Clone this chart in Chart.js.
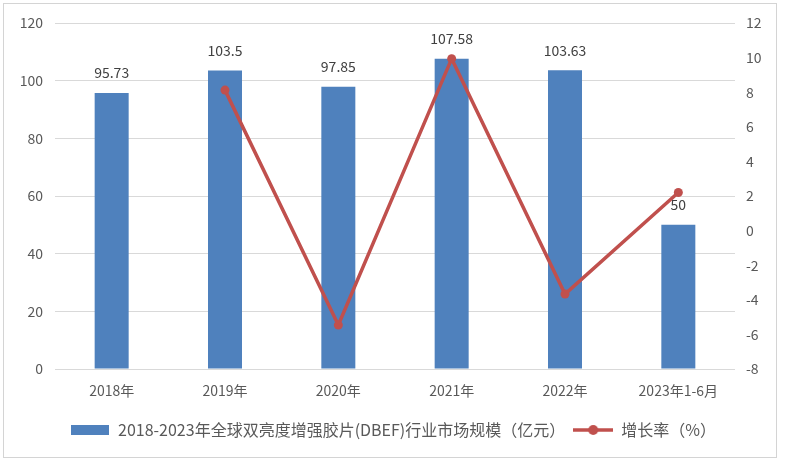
<!DOCTYPE html>
<html>
<head>
<meta charset="utf-8">
<script src="https://cdn.jsdelivr.net/npm/chart.js@4.4.0/dist/chart.umd.min.js"></script>
<style>
  body { margin: 0; background: #fff; }
  #wrap { position: relative; width: 786px; height: 465px; }
  #frame { position: absolute; left: 3px; top: 3px; width: 772px; height: 453px; border: 1px solid #d4d4d4; pointer-events: none; }
</style>
</head>
<body>
<div id="wrap">
  <canvas id="market_chart" width="786" height="465"></canvas>
  <div id="frame"></div>
</div>
<script>
var years = ['2018年', '2019年', '2020年', '2021年', '2022年', '2023年1-6月'];
var marketSize = [95.73, 103.5, 97.85, 107.58, 103.63, 50];
var growthRate = [null, 8.12, -5.46, 9.94, -3.67, 2.2];
var sizeLabel = '2018-2023年全球双亮度增强胶片(DBEF)行业市场规模（亿元）';
var rateLabel = '增长率（%）';

var blue = '#4F81BD';
var red = '#C0504D';
var textColor = '#595959';
var fontFamily = '"Noto Sans CJK SC", "Microsoft YaHei", sans-serif';

// little legend pictures
function barSwatch() {
    var c = document.createElement('canvas');
    c.width = 38; c.height = 10;
    var g = c.getContext('2d');
    g.fillStyle = blue;
    g.fillRect(0, 0, 38, 10);
    return c;
}
function lineSwatch() {
    var c = document.createElement('canvas');
    c.width = 40; c.height = 12;
    var g = c.getContext('2d');
    g.strokeStyle = red;
    g.lineWidth = 3.5;
    g.beginPath();
    g.moveTo(0, 6);
    g.lineTo(40, 6);
    g.stroke();
    g.fillStyle = red;
    g.beginPath();
    g.arc(20, 6, 5, 0, Math.PI * 2);
    g.fill();
    return c;
}

var barValueLabels = {
    id: 'barValueLabels',
    afterDatasetsDraw: function(chart) {
        var meta = chart.getDatasetMeta(1);
        var ctx = chart.ctx;
        ctx.save();
        ctx.font = '14px ' + fontFamily;
        ctx.fillStyle = '#404040';
        ctx.textAlign = 'center';
        ctx.textBaseline = 'middle';
        meta.data.forEach(function(bar, i) {
            ctx.fillText(String(marketSize[i]), bar.x, bar.y - 20);
        });
        ctx.restore();
    }
};

var ctx = document.getElementById('market_chart');
var chart = new Chart(ctx, {
    data: {
        labels: years,
        datasets: [{
            type: 'line',
            label: rateLabel,
            data: growthRate,
            yAxisID: 'y1',
            borderColor: red,
            backgroundColor: red,
            borderWidth: 3.5,
            pointRadius: 4.5,
            pointBackgroundColor: red,
            pointBorderWidth: 0,
            order: 0
        }, {
            type: 'bar',
            label: sizeLabel,
            data: marketSize,
            yAxisID: 'y',
            backgroundColor: blue,
            categoryPercentage: 1,
            barPercentage: 0.3,
            order: 1
        }]
    },
    options: {
        responsive: false,
        animation: false,
        layout: { padding: { top: 23, bottom: 17, left: 0, right: 0 } },
        plugins: {
            tooltip: { enabled: false },
            legend: {
                position: 'bottom',
                labels: {
                    color: textColor,
                    font: { family: fontFamily, size: 16 },
                    usePointStyle: true,
                    pointStyleWidth: 40,
                    padding: 8,
                    generateLabels: function(chart) {
                        return [
                            { text: sizeLabel, pointStyle: barSwatch(), fontColor: textColor, datasetIndex: 1, lineWidth: 0 },
                            { text: rateLabel, pointStyle: lineSwatch(), fontColor: textColor, datasetIndex: 0, lineWidth: 0 }
                        ];
                    }
                }
            }
        },
        scales: {
            x: {
                grid: { display: false, drawTicks: false },
                border: { display: false },
                ticks: { color: textColor, font: { family: fontFamily, size: 14 }, padding: 13, maxRotation: 0 },
                afterFit: function(scale) { scale.height = 45; }
            },
            y: {
                position: 'left',
                min: 0,
                max: 120,
                ticks: { stepSize: 20, color: textColor, font: { family: fontFamily, size: 14 }, padding: 12 },
                grid: { color: '#d9d9d9', drawTicks: false },
                border: { display: false },
                afterFit: function(scale) { scale.width = 55; }
            },
            y1: {
                position: 'right',
                min: -8,
                max: 12,
                ticks: { stepSize: 2, color: textColor, font: { family: fontFamily, size: 14 }, padding: 11 },
                grid: { display: false, drawTicks: false },
                border: { display: false },
                afterFit: function(scale) { scale.width = 51; }
            }
        }
    },
    plugins: [barValueLabels]
});
</script>
</body>
</html>
